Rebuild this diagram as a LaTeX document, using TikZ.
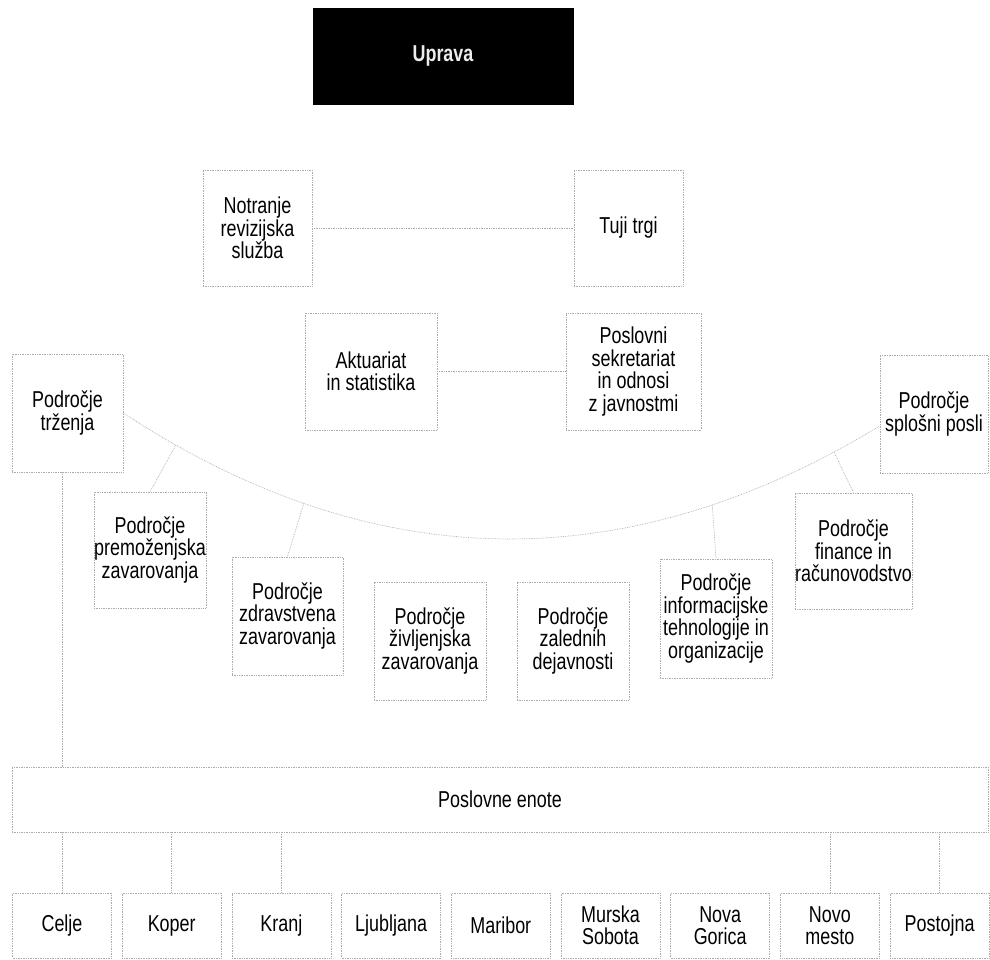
\documentclass[tikz,border=0pt]{standalone}
\usepackage{fontspec}
\setmainfont{Liberation Sans}[FakeStretch=0.78]
\begin{document}
\begin{tikzpicture}[x=1pt,y=-1pt]
\tikzset{
  box/.style={draw=gray!65, densely dotted, line width=0.7pt, align=center, inner sep=0pt,
              font=\fontsize{23}{22.5}\selectfont},
  cbox/.style={box, minimum width=99pt, minimum height=65pt},
  link/.style={draw=gray!65, densely dotted, line width=0.7pt},
}
\useasboundingbox (0,0) rectangle (990,959);

% top
\node[fill=black, draw=black, minimum width=260pt, minimum height=96pt, text=gray!15,
      font=\bfseries\fontsize{23}{23}\selectfont] (upr) at (443,56) {Uprava};

\node[box, minimum width=109pt, minimum height=116pt] (notr) at (257.5,228) {Notranje\\revizijska\\služba};
\node[box, minimum width=109pt, minimum height=116pt] (tuji) at (628.5,228) {Tuji trgi};
\draw[link] (notr.east) -- (tuji.west);

\node[box, minimum width=132pt, minimum height=117pt] (akt) at (371,371.5) {Aktuariat\\in statistika};
\node[box, minimum width=135pt, minimum height=117pt] (posl) at (633.5,371.5) {Poslovni\\sekretariat\\in odnosi\\z javnostmi};
\draw[link] (akt.east) -- (posl.west);

% areas
\node[box, minimum width=111pt, minimum height=118pt] (trz) at (67.5,413) {Področje\\trženja};
\node[box, minimum width=108pt, minimum height=118pt] (splo) at (934,414) {Področje\\splošni posli};

\node[box, minimum width=112pt, minimum height=116pt] (prem) at (150,550) {Področje\\premoženjska\\zavarovanja};
\node[box, minimum width=111pt, minimum height=118pt] (zdr) at (287.5,616) {Področje\\zdravstvena\\zavarovanja};
\node[box, minimum width=112pt, minimum height=118pt] (ziv) at (430,641) {Področje\\življenjska\\zavarovanja};
\node[box, minimum width=112pt, minimum height=118pt] (zal) at (573,641) {Področje\\zalednih\\dejavnosti};
\node[box, minimum width=112pt, minimum height=119pt] (inf) at (716,618.5) {Področje\\informacijske\\tehnologije in\\organizacije};
\node[box, minimum width=113pt, minimum height=116pt] (fin) at (853.5,551) {Področje\\finance in\\računovodstvo};

\draw[link] (trz.east) .. controls (373.3,577) and (625.7,580.3) .. ([yshift=-12pt]splo.west)
  coordinate[pos=0.07] (b1) coordinate[pos=0.24] (b2) coordinate[pos=0.78] (b3) coordinate[pos=0.94] (b4);
\draw[link] (b1) -- (prem.north);
\draw[link] (b2) -- (zdr.north);
\draw[link] (b3) -- (inf.north);
\draw[link] (b4) -- (fin.north);

% business units
\node[box, minimum width=976pt, minimum height=65pt] (enote) at (500,799.5) {Poslovne enote};

\node[cbox] (celje) at (62,925.5) {Celje};
\node[cbox] (koper) at (171.7,925.5) {Koper};
\node[cbox] (kranj) at (281.4,925.5) {Kranj};
\node[cbox] (ljub) at (391.1,925.5) {Ljubljana};
\node[cbox] (mari) at (500.8,925.5) {Maribor};
\node[cbox] (murs) at (610.5,925.5) {Murska\\Sobota};
\node[cbox] (novag) at (720.2,925.5) {Nova\\Gorica};
\node[cbox] (novom) at (829.9,925.5) {Novo\\mesto};
\node[cbox] (post) at (939.6,925.5) {Postojna};

\draw[link] (trz.south -| celje.north) -- (enote.north -| celje.north);
\draw[link] (enote.south -| celje.north) -- (celje.north);
\draw[link] (enote.south -| koper.north) -- (koper.north);
\draw[link] (enote.south -| kranj.north) -- (kranj.north);
\draw[link] (enote.south -| novom.north) -- (novom.north);
\draw[link] (enote.south -| post.north) -- (post.north);
\end{tikzpicture}
\end{document}
